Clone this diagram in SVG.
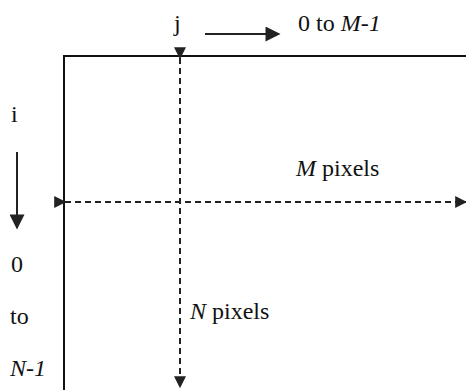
<svg xmlns="http://www.w3.org/2000/svg" width="466" height="390" viewBox="0 0 466 390">
<defs>
<marker id="ahb" viewBox="0 0 10 10" refX="9" refY="5" markerWidth="20" markerHeight="15" markerUnits="userSpaceOnUse" orient="auto"><path d="M0,0 L10,5 L0,10 Z" fill="#222"/></marker>
<marker id="ahs" viewBox="0 0 10 10" refX="9" refY="5" markerWidth="13" markerHeight="12" markerUnits="userSpaceOnUse" orient="auto"><path d="M0,0 L10,5 L0,10 Z" fill="#222"/></marker>
</defs>
<style>
text{font-family:"Liberation Serif",serif;font-size:24px;fill:#111}
.it{font-style:italic}
.frame{fill:none;stroke:#111;stroke-width:2}
.dash{stroke:#222;stroke-width:2;stroke-dasharray:6,4;fill:none}
.solid{stroke:#222;stroke-width:2;fill:none}
</style>
<rect width="466" height="390" fill="#ffffff"/>
<g id="frame"><path class="frame" d="M64,390 L64,56 L466,56"/></g>
<g id="labels">
<text x="174" y="31">j</text>
<text x="298" y="31">0 to <tspan class="it">M-1</tspan></text>
<text x="11" y="122">i</text>
<text x="11" y="272">0</text>
<text x="10" y="324">to</text>
<text x="10" y="376" class="it">N-1</text>
<text x="296" y="176"><tspan class="it">M</tspan> pixels</text>
<text x="190" y="319"><tspan class="it">N</tspan> pixels</text>
</g>
<g id="connectors">
<line class="solid" x1="205" y1="34" x2="279" y2="34" marker-end="url(#ahb)"/>
<line class="solid" x1="17" y1="152" x2="17" y2="228" marker-end="url(#ahb)"/>
<line class="dash" x1="180" y1="58" x2="180" y2="387" marker-start="url(#ahs)" marker-end="url(#ahs)"/>
<line class="dash" x1="65" y1="202" x2="466" y2="202" marker-start="url(#ahs)" marker-end="url(#ahs)"/>
</g>
</svg>
